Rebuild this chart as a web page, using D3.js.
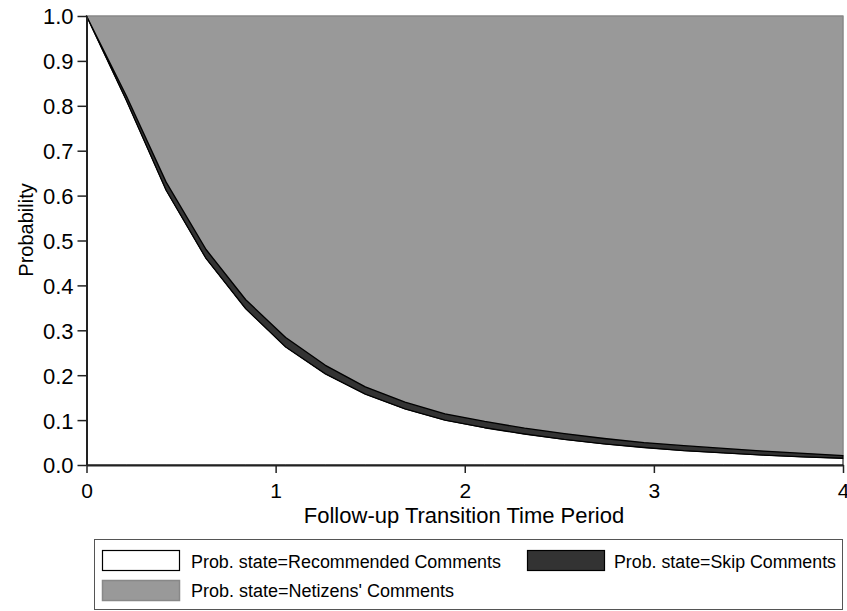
<!DOCTYPE html>
<html>
<head>
<meta charset="utf-8">
<script src="https://cdn.jsdelivr.net/npm/d3@7"></script>
<style>
  html, body { margin: 0; padding: 0; background: #fff; }
  svg { display: block; font-family: "Liberation Sans", Arial, sans-serif; }
</style>
</head>
<body>
<svg id="chart" width="847" height="611"></svg>
<script>
// ---- data ----
const times = [0, 0.211, 0.421, 0.632, 0.842, 1.053, 1.263, 1.474, 1.684, 1.895,
               2.105, 2.316, 2.526, 2.737, 2.947, 3.158, 3.368, 3.579, 3.789, 4.0];
const recommended = [1.000, 0.812, 0.612, 0.460, 0.348, 0.263, 0.203, 0.158, 0.125, 0.100,
                     0.083, 0.069, 0.057, 0.047, 0.039, 0.032, 0.027, 0.022, 0.018, 0.015];
const skip = [0.000, 0.010, 0.018, 0.020, 0.020, 0.021, 0.019, 0.016, 0.015, 0.014,
              0.014, 0.013, 0.013, 0.012, 0.011, 0.011, 0.010, 0.009, 0.008, 0.006];
const netizens = recommended.map((r, i) => +(1 - r - skip[i]).toFixed(3));
const seriesNames = ["Prob. state=Recommended Comments", "Prob. state=Skip Comments", "Prob. state=Netizens' Comments"];
const xTicks = [0, 1, 2, 3, 4];
const yTicks = [0, 0.1, 0.2, 0.3, 0.4, 0.5, 0.6, 0.7, 0.8, 0.9, 1.0];
const xTitle = "Follow-up Transition Time Period";
const yTitle = "Probability";

// ---- layout ----
const svg = d3.select("#chart");
const x = d3.scaleLinear().domain([0, 4]).range([86.5, 843]);
const y = d3.scaleLinear().domain([0, 1]).range([465, 16]);

const rows = times.map((t, i) => ({ t, rec: recommended[i], skip: skip[i], net: netizens[i] }));
const stack = d3.stack().keys(["rec", "skip", "net"]);
const layers = stack(rows);
const fills = ["#ffffff", "#333333", "#999999"];
const strokes = ["#000000", "#000000", "#888888"];
const widths = [1, 1.3, 1.5];

const area = d3.area()
  .x(d => x(d.data.t))
  .y0(d => y(d[0]))
  .y1(d => y(d[1]));

[2, 0, 1].forEach(k => {
  svg.append("path")
    .datum(layers[k])
    .attr("d", area)
    .attr("fill", fills[k])
    .attr("stroke", strokes[k])
    .attr("stroke-width", widths[k])
    .attr("stroke-linejoin", "round");
});

// ---- axes ----
const xAxis = d3.axisBottom(x).tickValues(xTicks).tickFormat(d3.format("d")).tickSize(8).tickSizeOuter(0);
const gx = svg.append("g").attr("transform", "translate(0,465)").call(xAxis);
gx.attr("font-size", 21).attr("font-family", "Liberation Sans, Arial, sans-serif");
gx.select(".domain").attr("stroke", "#222").attr("stroke-width", 2);
gx.selectAll(".tick line").attr("stroke", "#222").attr("stroke-width", 1.5);
gx.selectAll(".tick text").attr("fill", "#000").attr("dy", null).attr("y", 33);

const yAxis = d3.axisLeft(y).tickValues(yTicks).tickFormat(d3.format(".1f")).tickSize(9).tickSizeOuter(0);
const gy = svg.append("g").attr("transform", "translate(86.5,0)").call(yAxis);
gy.attr("font-size", 22).attr("font-family", "Liberation Sans, Arial, sans-serif");
gy.select(".domain").attr("stroke", "#222").attr("stroke-width", 2);
gy.selectAll(".tick line").attr("stroke", "#222").attr("stroke-width", 1.5);
gy.selectAll(".tick text").attr("fill", "#000").attr("x", -13).attr("dy", "0.36em");

// axis titles
svg.append("text")
  .attr("x", 464).attr("y", 523)
  .attr("text-anchor", "middle")
  .attr("font-size", 22)
  .attr("fill", "#000")
  .text(xTitle);

svg.append("text")
  .attr("transform", "translate(33,230) rotate(-90)")
  .attr("text-anchor", "middle")
  .attr("font-size", 20)
  .attr("fill", "#000")
  .text(yTitle);

// ---- legend ----
const lg = svg.append("g");
lg.append("rect").attr("x", 94.5).attr("y", 539.5).attr("width", 748).attr("height", 70)
  .attr("fill", "#fff").attr("stroke", "#555").attr("stroke-width", 1);

const legendItems = [
  { name: seriesNames[0], k: 0, sx: 102.5, sy: 550.5, tx: 191, ty: 568, tl: 310 },
  { name: seriesNames[1], k: 1, sx: 527.5, sy: 550.5, tx: 614, ty: 568, tl: 222 },
  { name: seriesNames[2], k: 2, sx: 102.5, sy: 580.5, tx: 191, ty: 597, tl: 263 }
];
legendItems.forEach(it => {
  lg.append("rect").attr("x", it.sx).attr("y", it.sy).attr("width", 77).attr("height", 20)
    .attr("fill", fills[it.k]).attr("stroke", strokes[it.k]).attr("stroke-width", it.k === 2 ? 1.5 : 1.2);
  lg.append("text").attr("x", it.tx).attr("y", it.ty)
    .attr("font-size", 18).attr("fill", "#000")
    .attr("textLength", it.tl).attr("lengthAdjust", "spacingAndGlyphs")
    .text(it.name);
});
</script>
</body>
</html>
